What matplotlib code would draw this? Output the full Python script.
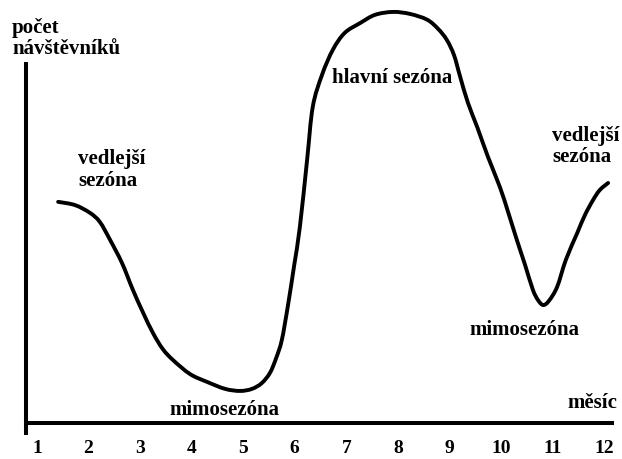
import matplotlib
matplotlib.use("Agg")
import matplotlib.pyplot as plt
from matplotlib.path import Path
from matplotlib.patches import PathPatch

# months on the x axis
months = list(range(1, 13))
month_labels = [str(m) for m in months]

# schematic visitor curve (month position, relative number of visitors)
curve_x = [1.41, 1.74, 2.03, 2.22, 2.42, 2.65, 2.86, 3.06, 3.25, 3.44, 3.64, 3.97,
           4.30, 4.65, 4.94, 5.17, 5.36, 5.52, 5.64, 5.75, 5.87, 5.99, 6.10, 6.24,
           6.35, 6.53, 6.74, 6.97, 7.27, 7.56, 7.91, 8.24, 8.57, 8.78, 8.95, 9.09,
           9.21, 9.36, 9.54, 9.75, 9.98, 10.14, 10.31, 10.47, 10.62, 10.72, 10.82,
           10.93, 11.09, 11.26, 11.48, 11.63, 11.79, 11.92, 12.08]
curve_y = [53.8, 53.0, 51.1, 48.9, 44.5, 38.9, 32.4, 26.8, 21.9, 18.0, 15.3, 11.9,
           10.0, 8.3, 7.8, 8.3, 9.7, 12.2, 15.8, 20.2, 28.7, 38.4, 47.7, 64.0,
           76.9, 84.7, 90.8, 94.9, 97.3, 99.3, 100.0, 99.5, 98.1, 95.9, 93.2, 89.5,
           84.2, 77.9, 72.0, 64.7, 57.4, 51.3, 44.5, 38.4, 32.4, 29.9, 28.7,
           29.7, 33.1, 39.7, 46.2, 50.6, 54.3, 56.7, 58.4]

plt.rcParams['font.family'] = ['Liberation Serif', 'DejaVu Serif']
plt.rcParams['font.weight'] = 'bold'

fig = plt.figure(figsize=(6.22, 4.59), dpi=100)
ax = fig.add_axes([26/622, 1 - 433/459, 586/622, 433/459])

# draw the line through the read points as a smooth bezier path
pts = list(zip(curve_x, curve_y))
verts = [pts[0]]
codes = [Path.MOVETO]
n = len(pts)
for i in range(n - 1):
    p0 = pts[max(i - 1, 0)]
    p1 = pts[i]
    p2 = pts[i + 1]
    p3 = pts[min(i + 2, n - 1)]
    c1 = (p1[0] + (p2[0] - p0[0]) / 6, p1[1] + (p2[1] - p0[1]) / 6)
    c2 = (p2[0] - (p3[0] - p1[0]) / 6, p2[1] - (p3[1] - p1[1]) / 6)
    verts += [c1, c2, p2]
    codes += [Path.CURVE4] * 3
ax.add_patch(PathPatch(Path(verts, codes), fill=False, edgecolor="black",
                       linewidth=2.8, capstyle="round", joinstyle="round",
                       clip_on=False))

ax.set_xlim(0.787, 12.155)
ax.set_ylim(-2.43, 102.9)

for s in ["top", "right"]:
    ax.spines[s].set_visible(False)
ax.spines["left"].set_linewidth(2.9)
ax.spines["bottom"].set_linewidth(2.9)
ax.spines["bottom"].set_position(("data", 0))
ax.spines["left"].set_bounds(-2.43, 87.3)

ax.set_yticks([])
ax.set_xticks(months)
ax.set_xticklabels(month_labels, fontsize=14, fontweight="bold")
ax.tick_params(axis="x", length=0, pad=12)

fs = 15
fig.text(12/622, 1 - 38.5/459, "počet\nnávštěvníků", ha="left", va="center",
         fontsize=fs, fontweight="bold", linespacing=1.1)
ax.text(1.795, 61.6, "vedlejší\nsezóna", ha="left", va="center",
        fontsize=fs, fontweight="bold", linespacing=1.1)
ax.text(7.887, 83.9, "hlavní sezóna", ha="center", va="center",
        fontsize=fs, fontweight="bold")
ax.text(10.99, 67.3, "vedlejší\nsezóna", ha="left", va="center",
        fontsize=fs, fontweight="bold", linespacing=1.1)
ax.text(10.45, 22.6, "mimosezóna", ha="center", va="center",
        fontsize=fs, fontweight="bold")
ax.text(4.63, 3.2, "mimosezóna", ha="center", va="center",
        fontsize=fs, fontweight="bold")
ax.text(12.25, 4.9, "měsíc", ha="right", va="center",
        fontsize=fs, fontweight="bold")

fig.savefig("out.png", dpi=100)
